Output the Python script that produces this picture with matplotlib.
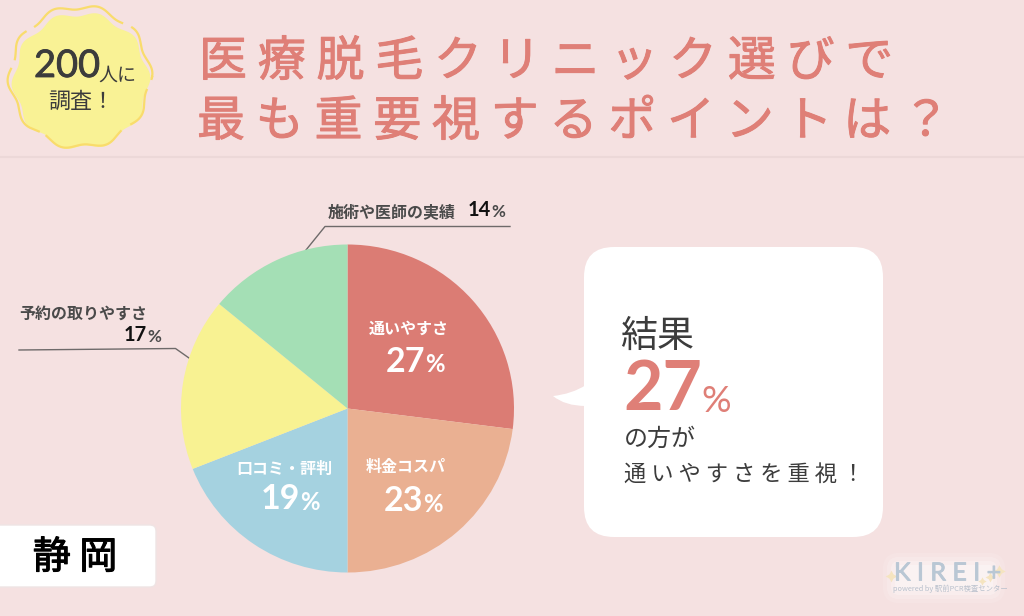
import numpy as np
import matplotlib
matplotlib.use("Agg")
import matplotlib.pyplot as plt
import matplotlib.patches as mp
import matplotlib.patheffects as pe
from matplotlib.path import Path

plt.rcParams['font.family'] = ['Noto Sans CJK JP', 'DejaVu Sans']

# data
categories = ["通いやすさ", "料金コスパ", "口コミ・評判", "予約の取りやすさ", "施術や医師の実績"]
values = [27, 23, 19, 17, 14]
colors = ["#DB7C74", "#EAB092", "#A5D2E0", "#F8F292", "#A4DFB5"]
title_lines = ["医 療 脱 毛 ク リ ニ ッ ク 選 び で", "最 も 重 要 視 す る ポ イ ン ト は ？"]
region = "静 岡"

BG = "#F5E1E1"
TITLE = "#DF7F77"
DARK = "#3C3C3C"
LABEL = "#4A4A4A"
NUM = ['Lato', 'DejaVu Sans']


def px(n):  # pixel size to points at dpi 100
    return n * 0.72


def heavier(color, w=0.5):  # the CJK font only has regular and bold here
    return [pe.withStroke(linewidth=w, foreground=color)]


fig = plt.figure(figsize=(10.24, 6.16), dpi=100, facecolor=BG)

# full figure layer in pixel coordinates for everything around the pie
bg = fig.add_axes([0, 0, 1, 1])
bg.set_xlim(0, 1024)
bg.set_ylim(616, 0)
bg.axis("off")

# header rule
bg.plot([0, 1024], [156.5, 156.5], color="#ECD8D8", lw=1.5)

# badge
t = np.linspace(0, 2 * np.pi, 720)
bg.fill(81 + (67 + 2.5 * np.cos(10 * t + 0.6)) * np.cos(t),
        81 + (67 + 2.5 * np.cos(10 * t + 0.6)) * np.sin(t), color="#F9F295", lw=0)
xo = 80 + (70 + 2.5 * np.cos(10 * t + 0.6)) * np.cos(t)
yo = 77 + (70 + 2.5 * np.cos(10 * t + 0.6)) * np.sin(t)
# outline with gaps, degrees clockwise from the right
gaps = [(2, 11), (43, 53), (120, 127), (187, 195), (220, 228), (308, 316)]
deg = np.degrees(t)
keep = np.ones_like(t, dtype=bool)
for a, b in gaps:
    keep[(deg > a) & (deg < b)] = False
bg.plot(np.where(keep, xo, np.nan), np.where(keep, yo, np.nan), color="#F9DC6C", lw=1.6)

bg.text(34, 66, "200", fontsize=px(38), color=DARK, ha="left", va="center", family=NUM,
        path_effects=heavier(DARK, 0.6))
bg.text(98, 75, "人に", fontsize=px(19), color=DARK, ha="left", va="center")
bg.text(81, 102, "調査！", fontsize=px(22), color=DARK, ha="center", va="center")

# title
bg.text(199, 62, title_lines[0], fontsize=px(48), color=TITLE, ha="left", va="center",
        path_effects=heavier(TITLE, 0.7))
bg.text(197, 122, title_lines[1], fontsize=px(48), color=TITLE, ha="left", va="center",
        path_effects=heavier(TITLE, 0.7))

# speech bubble
bg.add_patch(mp.FancyBboxPatch((614, 277), 239, 230, boxstyle="round,pad=30,rounding_size=30",
                               fc="white", ec="none"))
tail = Path([(586, 385), (572, 394), (553, 396), (565, 406), (586, 406), (586, 385)],
            [Path.MOVETO, Path.CURVE3, Path.CURVE3, Path.CURVE3, Path.CURVE3, Path.CLOSEPOLY])
bg.add_patch(mp.PathPatch(tail, fc="white", ec="none"))

bg.text(620, 336, "結果", fontsize=px(37), color=DARK, ha="left", va="center")
bg.text(623, 390, f"{values[0]}", fontsize=px(68), color=TITLE, ha="left", va="center",
        fontweight="bold", family=NUM)
bg.text(701, 401, "%", fontsize=px(37), color=TITLE, ha="left", va="center", family=NUM)
bg.text(624, 439, "の方が", fontsize=px(24), color=DARK, ha="left", va="center")
bg.text(624, 474, "通 い や す さ を 重 視 ！", fontsize=px(22.3), color=DARK, ha="left", va="center")

# region box
bg.add_patch(mp.FancyBboxPatch((-10, 529), 162, 54, boxstyle="round,pad=4,rounding_size=6",
                               fc="white", ec="#EFE4E4", lw=1))
bg.text(75, 558, region, fontsize=px(38), color="black", ha="center", va="center",
        path_effects=heavier("black", 0.8))

# logo
for pad, a in [(12, 0.12), (8, 0.18), (4, 0.25), (0, 0.3)]:
    bg.add_patch(mp.FancyBboxPatch((895, 565), 98, 26, boxstyle=f"round,pad={pad},rounding_size={pad + 4}",
                                   fc="white", ec="none", alpha=a))
bg.text(894, 573, "K I R E I +", fontsize=px(25), color="#B9C7D4", ha="left", va="center", family=NUM,
        path_effects=heavier("#B9C7D4", 0.6))
bg.text(893, 589, "powered by 駅前PCR検査センター", fontsize=px(7.4), color="#B9C0CC", ha="left", va="center")
for x, y, s in [(891, 576, 70), (999, 571, 80), (990, 577, 50), (982, 581, 35)]:
    bg.scatter([x], [y], marker=(4, 1, 0), s=s, color="#F5E4C0", lw=0)

# leader lines
bg.plot([306, 325, 510], [250, 226.5, 226.5], color="#6E6A6A", lw=1)
bg.plot([189, 175.5, 19], [358, 348.5, 350], color="#6E6A6A", lw=1)

# outside labels
bg.text(328, 212, categories[4], fontsize=px(16), color=LABEL, ha="left", va="center", fontweight="bold")
bg.text(491, 210, f"{values[4]}", fontsize=px(20), color="#111111", ha="right", va="center",
        fontweight="bold", family=NUM)
bg.text(491, 212, "%", fontsize=px(17), color=LABEL, ha="left", va="center", fontweight="bold", family=NUM)
bg.text(19, 314, categories[3], fontsize=px(16), color=LABEL, ha="left", va="center", fontweight="bold")
bg.text(147, 335, f"{values[3]}", fontsize=px(20), color="#111111", ha="right", va="center",
        fontweight="bold", family=NUM)
bg.text(147, 337, "%", fontsize=px(17), color=LABEL, ha="left", va="center", fontweight="bold", family=NUM)

# pie
ax = fig.add_axes([181 / 1024, 1 - 572.5 / 616, 333 / 1024, 328 / 616])
ax.pie(values, colors=colors, startangle=90, counterclock=False, radius=1)
ax.set_xlim(-1, 1)
ax.set_ylim(-1, 1)
ax.set_aspect("auto")

# labels on the pie, positions in pixels of the bg layer
on_pie = fig.add_axes([0, 0, 1, 1])
on_pie.set_xlim(0, 1024)
on_pie.set_ylim(616, 0)
on_pie.axis("off")
for i, (cx, cy_name, cy_val, num_x) in enumerate([(409, 329, 362, 425), (406, 467, 501, 423), (284, 469, 499, 300)]):
    on_pie.text(cx, cy_name, categories[i], fontsize=px(16), color="white", ha="center", va="center", fontweight="bold")
    on_pie.text(num_x, cy_val, f"{values[i]}", fontsize=px(34), color="white", ha="right", va="center",
                fontweight="bold", family=NUM)
    on_pie.text(num_x, cy_val + 3, "%", fontsize=px(24), color="white", ha="left", va="center",
                fontweight="bold", family=NUM)

fig.savefig("out.png", dpi=100, facecolor=BG)
